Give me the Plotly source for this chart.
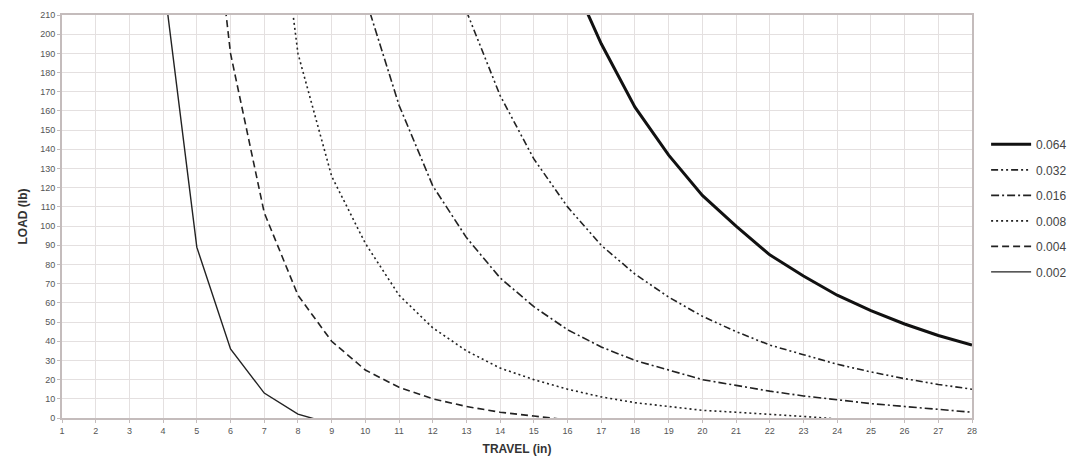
import plotly.graph_objects as go

travel_002 = [4, 5, 6, 7, 8, 9]
load_002 = [230, 89, 36, 13, 2, -3]

travel_004 = [5, 6, 7, 8, 9, 10, 11, 12, 13, 14, 15, 16]
load_004 = [344, 190, 107, 64, 40, 25, 16, 10, 6, 3, 1, -1]

travel_008 = [7, 8, 9, 10, 11, 12, 13, 14, 15, 16, 17, 18, 19, 20, 21, 22, 23, 24]
load_008 = [330, 190, 126, 91, 64, 47, 35, 26, 20, 15, 11, 8, 6, 4, 3, 2, 0.8, -0.5]

travel_016 = [10, 11, 12, 13, 14, 15, 16, 17, 18, 19, 20, 21, 22, 23, 24, 25, 26, 27, 28]
load_016 = [219, 163, 121, 94, 73, 58, 46, 37, 30, 25, 20, 17, 14, 11.5, 9.5, 7.5, 6, 4.5, 3]

travel_032 = [13, 14, 15, 16, 17, 18, 19, 20, 21, 22, 23, 24, 25, 26, 27, 28]
load_032 = [212, 168, 135, 110, 90, 75, 63, 53, 45, 38, 33, 28, 24, 20.5, 17.5, 15]

travel_064 = [16, 17, 18, 19, 20, 21, 22, 23, 24, 25, 26, 27, 28]
load_064 = [234, 195, 162, 137, 116, 100, 85, 74, 64, 56, 49, 43, 38]

series_names = ["0.064", "0.032", "0.016", "0.008", "0.004", "0.002"]

x_ticks = list(range(1, 29))
y_ticks = list(range(0, 211, 10))

series = [
    (travel_064, load_064, dict(color="#111111", width=3, dash="solid")),
    (travel_032, load_032, dict(color="#222222", width=1.6, dash="7px,3px,2px,3px,2px,3px")),
    (travel_016, load_016, dict(color="#222222", width=1.6, dash="8px,3px,2px,3px")),
    (travel_008, load_008, dict(color="#222222", width=1.6, dash="2px,3px")),
    (travel_004, load_004, dict(color="#222222", width=1.6, dash="7px,4px")),
    (travel_002, load_002, dict(color="#222222", width=1.4, dash="solid")),
]

fig = go.Figure()
for name, (xs, ys, ln) in zip(series_names, series):
    fig.add_trace(go.Scatter(x=xs, y=ys, mode="lines", name=name, line=ln,
                             legendgroup=name))

grid_col = "#e4e0e0"
axis_col = "#c4bcbc"
tick_font = dict(family="Liberation Sans, Arial, sans-serif", size=9, color="#555555")

fig.update_layout(
    width=1072, height=460,
    margin=dict(l=54, r=108, t=7, b=50),
    paper_bgcolor="white", plot_bgcolor="white",
    font=dict(family="Liberation Sans, Arial, sans-serif", color="#333333"),
    showlegend=True,
    legend=dict(x=1.0155, y=0.715, xanchor="left", yanchor="top",
                font=dict(size=12, color="#444444"),
                tracegroupgap=6.5, itemwidth=40,
                bgcolor="rgba(0,0,0,0)"),
    xaxis=dict(range=[1, 28], tickmode="array", tickvals=x_ticks,
               ticktext=[str(v) for v in x_ticks],
               showgrid=True, gridcolor=grid_col, gridwidth=1,
               showline=True, linecolor=axis_col, linewidth=2, mirror=True,
               zeroline=False, tickfont=tick_font, ticks="outside", ticklen=3,
               tickcolor=axis_col, automargin=False,
               title=dict(text="<b>TRAVEL (in)</b>", font=dict(size=12, color="#333333"),
                          standoff=10)),
    yaxis=dict(range=[0, 210], tickmode="array", tickvals=y_ticks,
               ticktext=[str(v) for v in y_ticks],
               showgrid=True, gridcolor=grid_col, gridwidth=1,
               showline=True, linecolor=axis_col, linewidth=2, mirror=True,
               zeroline=False, tickfont=tick_font, ticks="outside", ticklen=3,
               tickcolor=axis_col, automargin=False,
               title=dict(text="<b>LOAD (lb)</b>", font=dict(size=12, color="#333333"),
                          standoff=10)),
)

fig.write_html("out.html")
